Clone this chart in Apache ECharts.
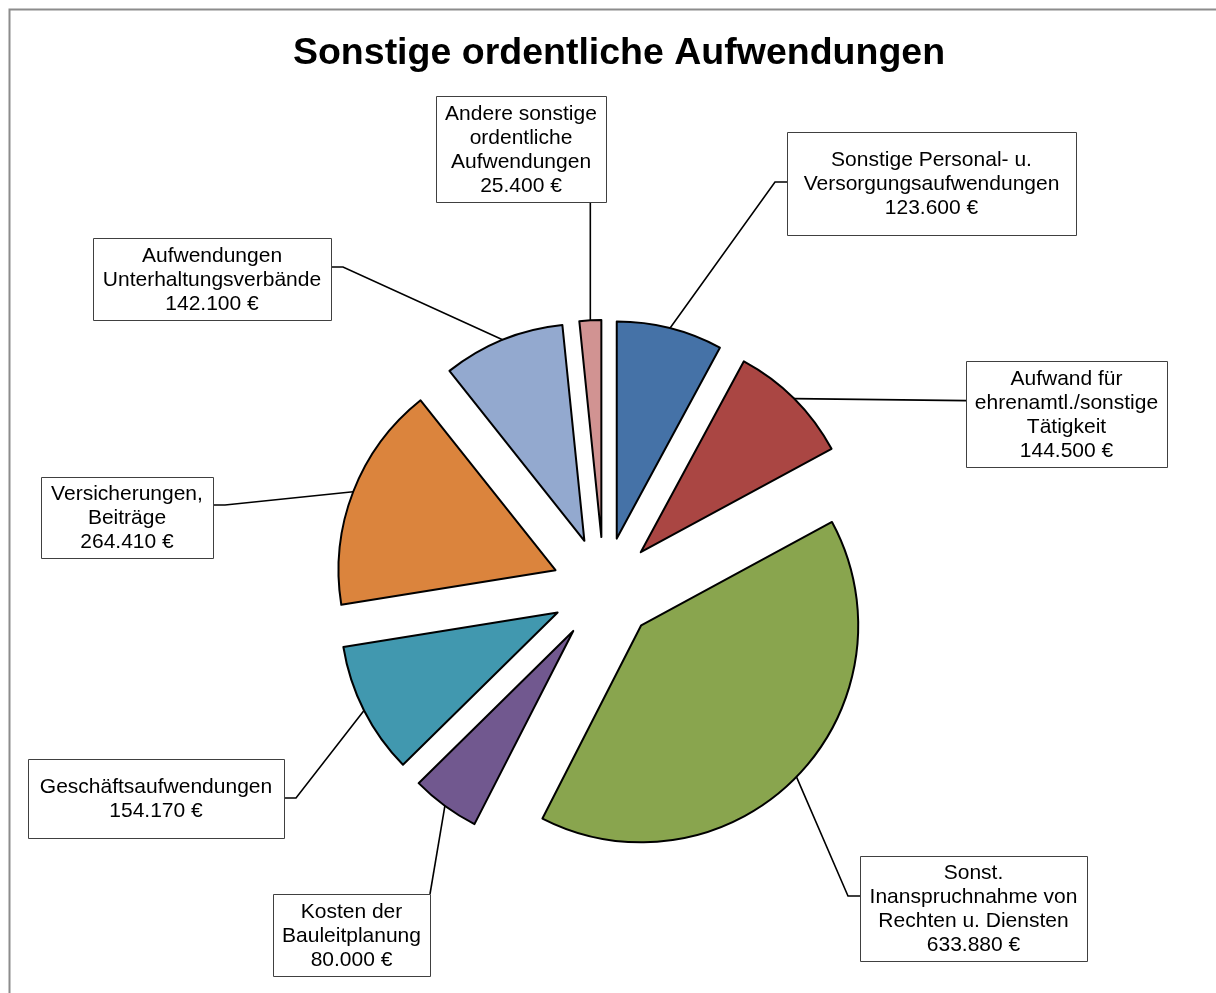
<!DOCTYPE html>
<html>
<head>
<meta charset="utf-8">
<script src="https://cdn.jsdelivr.net/npm/echarts@6/dist/echarts.min.js"></script>
<style>
  html, body { margin: 0; padding: 0; background: #fff; }
  #main { width: 1216px; height: 993px; }
</style>
</head>
<body>
<div id="main"></div>
<script>
const categories = [
  'Sonstige Personal- u.\nVersorgungsaufwendungen',
  'Aufwand für\nehrenamtl./sonstige\nTätigkeit',
  'Sonst.\nInanspruchnahme von\nRechten u. Diensten',
  'Kosten der\nBauleitplanung',
  'Geschäftsaufwendungen',
  'Versicherungen,\nBeiträge',
  'Aufwendungen\nUnterhaltungsverbände',
  'Andere sonstige\nordentliche\nAufwendungen'
];
const values = [123600, 144500, 633880, 80000, 154170, 264410, 142100, 25400];
const colors = ['#4572A7', '#AA4643', '#89A54E', '#71588F', '#4198AF', '#DB843D', '#93A9CF', '#D19392'];

// label boxes: left, top, width, height, where the leader attaches, stub y
const labelBoxes = [
  [787, 132, 289, 103, 'l', 182],
  [966, 361, 201, 106, 'ld', 0],
  [860, 856, 227, 105, 'l', 896],
  [273, 894, 157, 82, 'tr', 0],
  [28, 759, 256, 79, 'r', 798],
  [41, 477, 172, 81, 'r', 505],
  [93, 238, 238, 82, 'r', 267],
  [436, 96, 170, 106, 'b', 0]
];

const EXPLODE = 52;
const FONT = '21px "Liberation Sans", Arial, sans-serif';

function euro(v) {
  return String(v).replace(/\B(?=(\d{3})+(?!\d))/g, '.') + ' €';
}

const chart = echarts.init(document.getElementById('main'));

chart.setOption({
  animation: false,
  title: {
    text: 'Sonstige ordentliche Aufwendungen',
    left: 614,
    top: 30,
    textAlign: 'center',
    textStyle: {
      fontFamily: 'Liberation Sans, Arial, sans-serif',
      fontSize: 37.5,
      fontWeight: 'bold',
      color: '#000'
    }
  },
  graphic: [{
    id: 'frame',
    type: 'rect',
    shape: { x: 9.5, y: 9.5, width: 1300, height: 1100 },
    style: { fill: 'none', stroke: '#8c8c8c', lineWidth: 2 },
    silent: true
  }],
  series: [{
    type: 'pie',
    center: [604, 589],
    radius: [0, 217],
    startAngle: 90,
    clockwise: true,
    selectedMode: 'multiple',
    selectedOffset: EXPLODE,
    itemStyle: { borderColor: '#000', borderWidth: 2 },
    emphasis: { disabled: true },
    select: { itemStyle: { borderColor: '#000', borderWidth: 2 } },
    label: { show: false },
    labelLine: { show: false },
    data: values.map(function (v, i) {
      return { name: categories[i], value: v, selected: true, itemStyle: { color: colors[i] } };
    })
  }]
});

// leader lines and label boxes, anchored on the laid-out slices
const pieData = chart.getModel().getSeriesByIndex(0).getData();
const extra = [];
values.forEach(function (v, i) {
  const lay = pieData.getItemLayout(i);
  const mid = (lay.startAngle + lay.endAngle) / 2;
  const rr = lay.r + EXPLODE;
  const ax = lay.cx + rr * Math.cos(mid);
  const ay = lay.cy + rr * Math.sin(mid);
  const b = labelBoxes[i];
  const left = b[0], top = b[1], w = b[2], h = b[3], side = b[4];
  let pts;
  if (side === 'l') pts = [[ax, ay], [left - 12, b[5]], [left, b[5]]];
  else if (side === 'r') pts = [[ax, ay], [left + w + 12, b[5]], [left + w, b[5]]];
  else if (side === 'ld') pts = [[ax, ay], [left, Math.min(Math.max(ay + 2, top), top + h)]];
  else if (side === 'tr') pts = [[ax, ay], [left + w, top]];
  else pts = [[ax, ay], [Math.min(Math.max(ax, left), left + w), top + h]];

  extra.push({
    id: 'line' + i,
    type: 'polyline',
    shape: { points: pts },
    style: { stroke: '#000', lineWidth: 1.6, fill: null },
    silent: true,
    z: 10
  });
  extra.push({
    id: 'box' + i,
    type: 'rect',
    shape: { x: left + 0.5, y: top + 0.5, width: w, height: h },
    style: { fill: '#fff', stroke: '#404040', lineWidth: 1 },
    silent: true,
    z: 11
  });
  extra.push({
    id: 'text' + i,
    type: 'text',
    style: {
      text: categories[i] + '\n' + euro(v),
      x: left + w / 2,
      y: top + h / 2 + 1,
      align: 'center',
      verticalAlign: 'middle',
      font: FONT,
      lineHeight: 24,
      fill: '#000'
    },
    silent: true,
    z: 12
  });
});
chart.setOption({ graphic: extra });
</script>
</body>
</html>
